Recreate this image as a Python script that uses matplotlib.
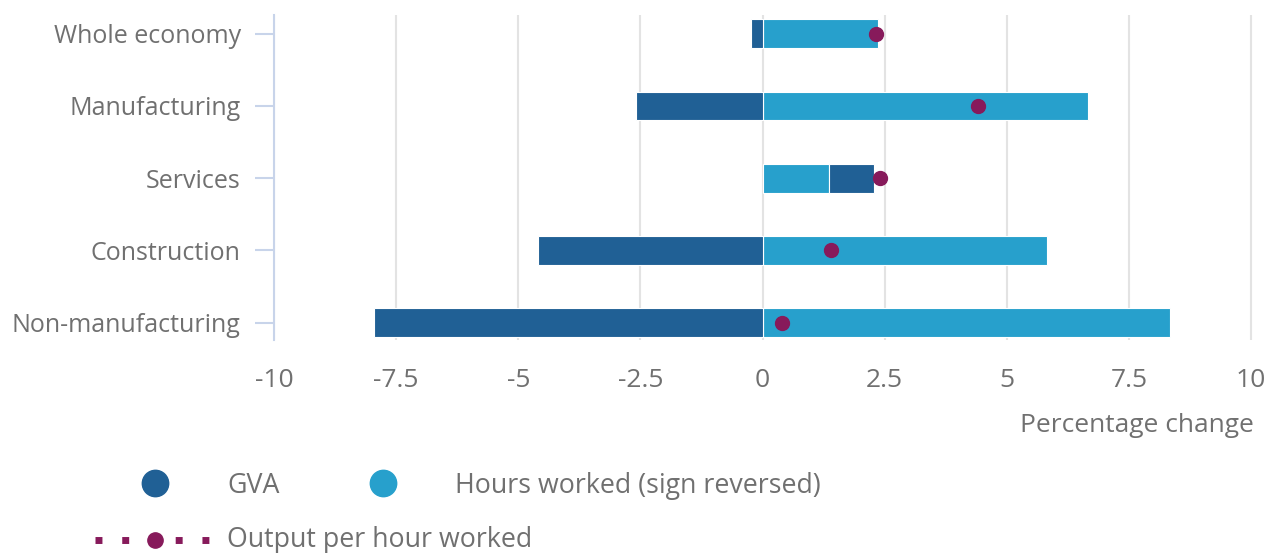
import matplotlib
matplotlib.use("Agg")
import matplotlib.pyplot as plt
from matplotlib.lines import Line2D
import numpy as np

plt.rcParams['font.family'] = ['Open Sans', 'DejaVu Sans']

categories = ["Whole economy", "Manufacturing", "Services", "Construction", "Non-manufacturing"]
# GVA contribution (stacked after hours when positive)
gva = [-0.23, -2.6, 0.91, -4.6, -7.96]
hours_reversed = [2.37, 6.66, 1.37, 5.83, 8.34]
output_per_hour = [2.33, 4.42, 2.41, 1.40, 0.40]
xticks = [-10, -7.5, -5, -2.5, 0, 2.5, 5, 7.5, 10]
xtick_labels = ["-10", "-7.5", "-5", "-2.5", "0", "2.5", "5", "7.5", "10"]

C_GVA = "#206095"
C_HRS = "#27a0cc"
C_OPH = "#871a5b"
C_TXT = "#707070"
C_AX = "#c8d4ea"
C_GRID = "#e3e3e3"

W, H = 1276, 553
fig = plt.figure(figsize=(W / 100, H / 100), dpi=100)
ax = fig.add_axes([274 / W, 1 - 340 / H, (1256 - 274) / W, (340 - 15) / H])

y = np.arange(len(categories))
h = 0.40
gva_arr = np.array(gva)
hrs_arr = np.array(hours_reversed)
ax.barh(y, hrs_arr, height=h, color=C_HRS, edgecolor="white", linewidth=0.8, zorder=2)
gva_left = np.where(gva_arr >= 0, hrs_arr, 0.0)
ax.barh(y, gva_arr, left=gva_left, height=h, color=C_GVA, edgecolor="white", linewidth=0.8, zorder=2)
ax.plot(output_per_hour, y, linestyle="none", marker="o", markersize=10, color=C_OPH, zorder=3)

ax.set_xlim(-10, 10.1)
ax.set_ylim(len(categories) - 1 + 0.24, -0.26)
ax.set_xticks(xticks)
ax.set_xticklabels(xtick_labels)
ax.set_yticks(y)
ax.set_yticklabels(categories)
ax.grid(axis="x", color=C_GRID, linewidth=1.5, zorder=0)
ax.set_axisbelow(True)
for s in ["top", "right", "bottom"]:
    ax.spines[s].set_visible(False)
ax.spines["left"].set_color(C_AX)
ax.spines["left"].set_linewidth(1.5)
ax.tick_params(axis="y", length=14, width=1.5, color=C_AX, labelcolor=C_TXT, labelsize=18, pad=10)
ax.tick_params(axis="x", length=0, labelcolor=C_TXT, labelsize=19, pad=20)

fig.text(1254 / W, 1 - 426 / H, "Percentage change", ha="right", va="center", fontsize=19, color=C_TXT)

def fx(px):
    return px / W

def fy(py):
    return 1 - py / H

fig.add_artist(Line2D([fx(155)], [fy(483)], marker="o", markersize=19, color=C_GVA, linestyle="none"))
fig.text(fx(227), fy(486), "GVA", ha="left", va="center", fontsize=19.3, color=C_TXT)
fig.add_artist(Line2D([fx(383)], [fy(483)], marker="o", markersize=19, color=C_HRS, linestyle="none"))
fig.text(fx(455), fy(486), "Hours worked (sign reversed)", ha="left", va="center", fontsize=19.3, color=C_TXT)
fig.add_artist(Line2D([fx(95), fx(211)], [fy(540), fy(540)], linestyle=(0, (1, 2.85)), linewidth=5,
                      color=C_OPH, solid_capstyle="butt", dash_capstyle="butt"))
fig.add_artist(Line2D([fx(155)], [fy(540)], marker="o", markersize=11, color=C_OPH, linestyle="none"))
fig.text(fx(227), fy(540), "Output per hour worked", ha="left", va="center", fontsize=19.3, color=C_TXT)

fig.savefig("out.png", dpi=100, facecolor="white")
